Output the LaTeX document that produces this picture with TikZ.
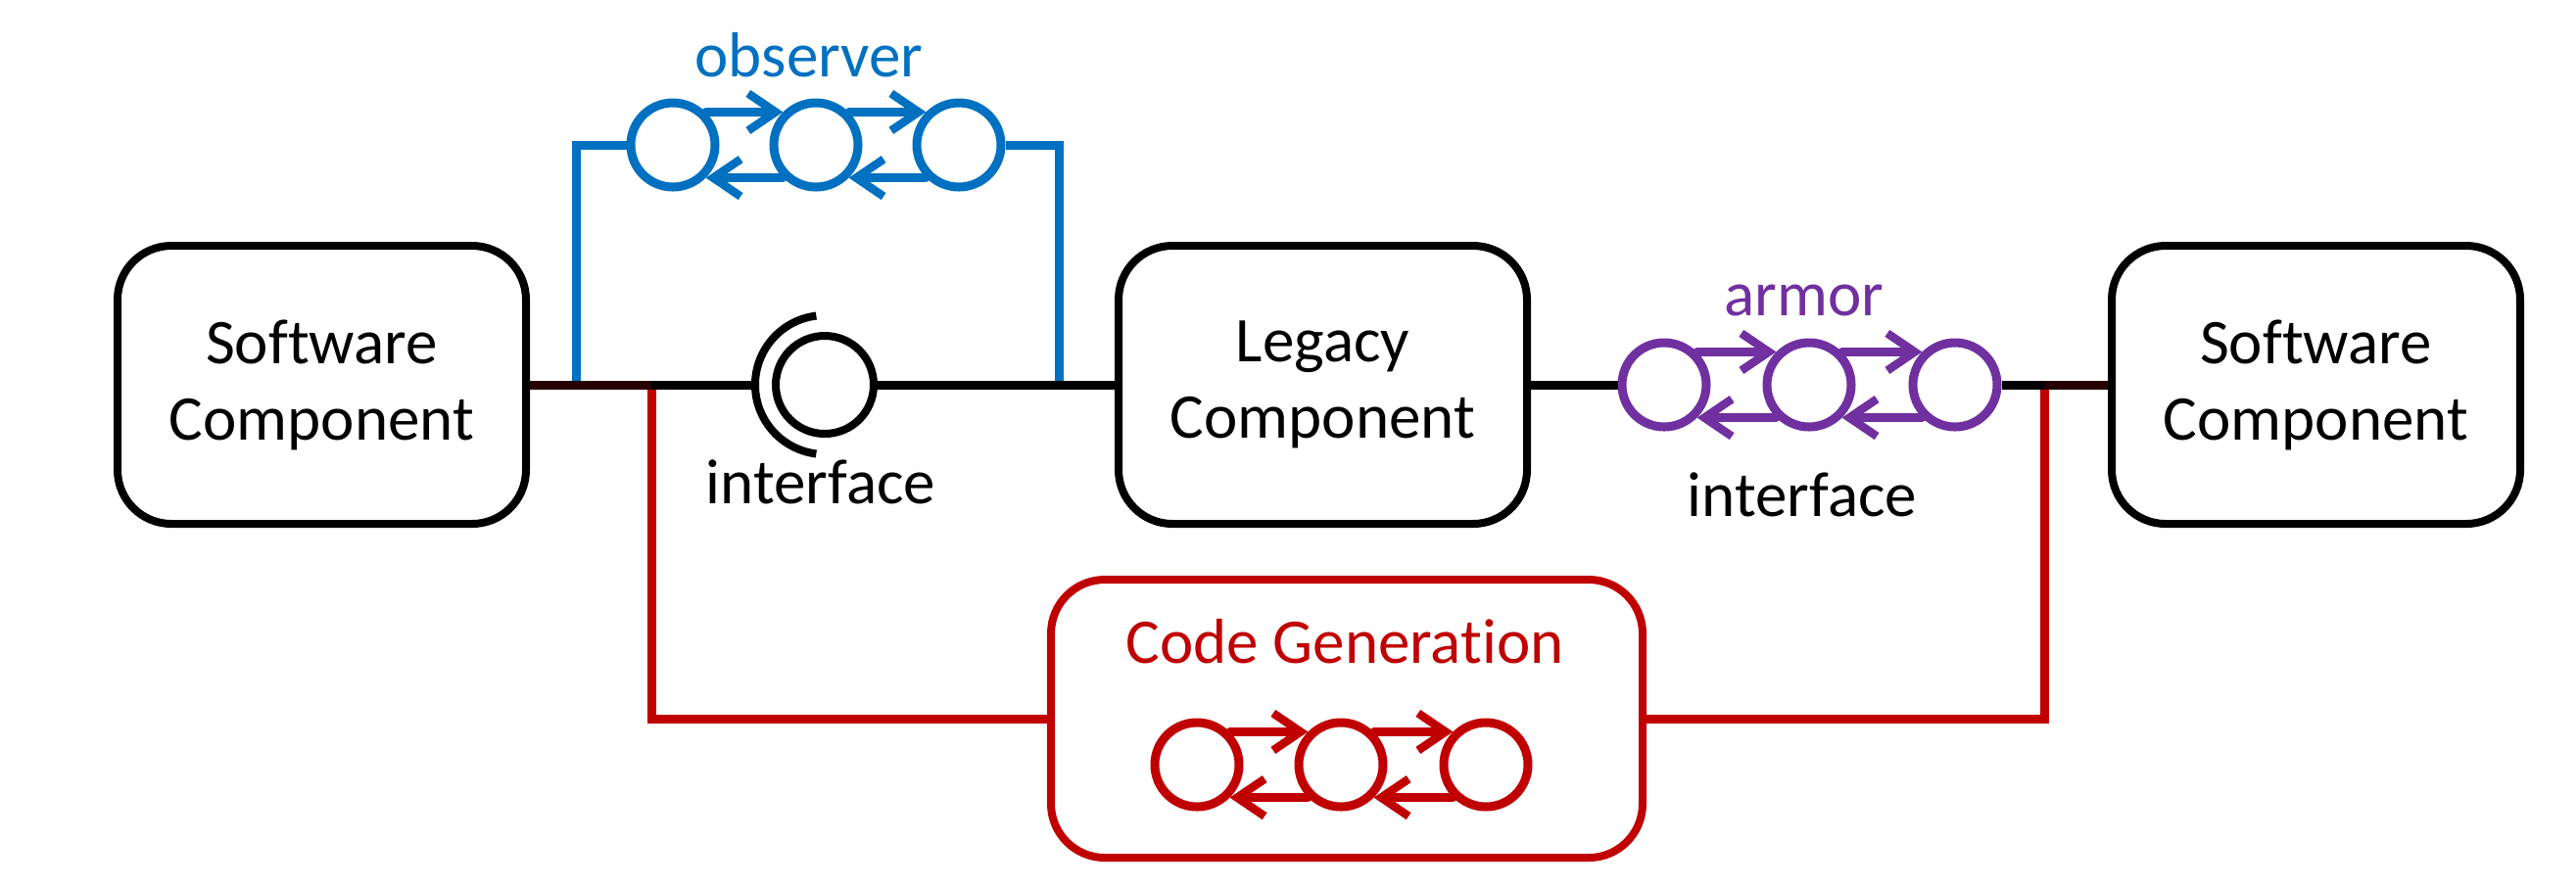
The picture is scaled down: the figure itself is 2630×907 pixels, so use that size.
\documentclass[tikz,border=0pt]{standalone}
\usepackage{fontspec}
\setmainfont{Carlito}[RawFeature={-liga}]
\usetikzlibrary{arrows.meta,calc}
\definecolor{obsblue}{HTML}{0070C0}
\definecolor{armpurple}{HTML}{7030A0}
\definecolor{genred}{HTML}{C00000}
\begin{document}
\begin{tikzpicture}[x=0.1mm,y=-0.1mm,
  comp/.style={draw, line width=0.8mm, rounded corners=5.5mm, minimum width=41.7mm, minimum height=28.4mm, align=center, font=\fontsize{18.5}{22.2}\selectfont, inner sep=0pt},
  st/.style={draw, circle, line width=0.9mm, minimum size=8.6mm, inner sep=0pt},
  tr/.style={line width=0.85mm, line cap=round, -{Straight Barb[length=2.8mm,width=3.8mm]}},
  wire/.style={line width=0.9mm},
  lbl/.style={font=\fontsize{18.5}{22.2}\selectfont, anchor=base, inner sep=0pt}]
\useasboundingbox (0,0) rectangle (2630,907);

% components
\node[comp] (lb) at (328.5,393) {Software\\Component};
\node[comp] (leg) at (1350.5,393) {Legacy\\Component};
\node[comp] (rb) at (2364.5,393) {Software\\Component};
\node[draw=genred, line width=0.8mm, rounded corners=5.5mm, minimum width=60.4mm, minimum height=28.4mm, inner sep=0pt] (cg) at (1375,734) {};

% interface (ball and socket)
\node[draw, circle, line width=0.8mm, minimum size=10mm, inner sep=0pt] (ib) at (842,393) {};
\coordinate (sock) at (771,393);
\draw[line width=0.8mm] ([shift={(97:7.1mm)}]ib.center) arc[start angle=97,end angle=263,radius=7.1mm];

% labels
\node[lbl, text=obsblue] (tobs) at (826,78) {observer};
\node[lbl, text=armpurple] (tarm) at (1842,322) {armor};
\node[lbl] (tif1) at (838,514) {interface};
\node[lbl] (tif2) at (1840,527) {interface};
\node[lbl, text=genred] (tcg) at (1373,677) {Code Generation};

% observer state machine
\node[st, draw=obsblue] (o1) at (687,148) {};
\node[st, draw=obsblue] (o2) at (833,148) {};
\node[st, draw=obsblue] (o3) at (979,148) {};
\draw[tr, obsblue] (o1.45) -- (o2.135);
\draw[tr, obsblue] (o2.45) -- (o3.135);
\draw[tr, obsblue] (o3.-135) -- (o2.-45);
\draw[tr, obsblue] (o2.-135) -- (o1.-45);

% armor state machine
\node[st, draw=armpurple] (a1) at (1699,393) {};
\node[st, draw=armpurple] (a2) at (1847,393) {};
\node[st, draw=armpurple] (a3) at (1996,393) {};
\draw[tr, armpurple] (a1.45) -- (a2.135);
\draw[tr, armpurple] (a2.45) -- (a3.135);
\draw[tr, armpurple] (a3.-135) -- (a2.-45);
\draw[tr, armpurple] (a2.-135) -- (a1.-45);

% code generation state machine
\node[st, draw=genred] (g1) at (1222,781) {};
\node[st, draw=genred] (g2) at (1369,781) {};
\node[st, draw=genred] (g3) at (1517,781) {};
\draw[tr, genred] (g1.45) -- (g2.135);
\draw[tr, genred] (g2.45) -- (g3.135);
\draw[tr, genred] (g3.-135) -- (g2.-45);
\draw[tr, genred] (g2.-135) -- (g1.-45);

% junctions
\coordinate (bj1) at (588,393);
\coordinate (bj2) at (1081,393);
\coordinate (rj1) at (665,393);
\coordinate (rj2) at (2087,393);

% observer connectors
\draw[wire, obsblue] (bj1) |- (o1.west);
\draw[wire, obsblue] (o3.east) -| (bj2);

% code generation connectors
\draw[wire, genred] (lb.east) -- (rj1) |- (cg.west);
\draw[wire, genred] (cg.east) -| (rj2) -- (rb.west);

% main black line
\draw[wire, opacity=0.8] (lb.east) -- (rj1);
\draw[wire] (rj1) -- (sock);
\draw[wire] (ib.east) -- (leg.west);
\draw[wire] (leg.east) -- (a1.west);
\draw[wire] (a3.east) -- (rj2);
\draw[wire, opacity=0.8] (rj2) -- (rb.west);
\end{tikzpicture}
\end{document}
